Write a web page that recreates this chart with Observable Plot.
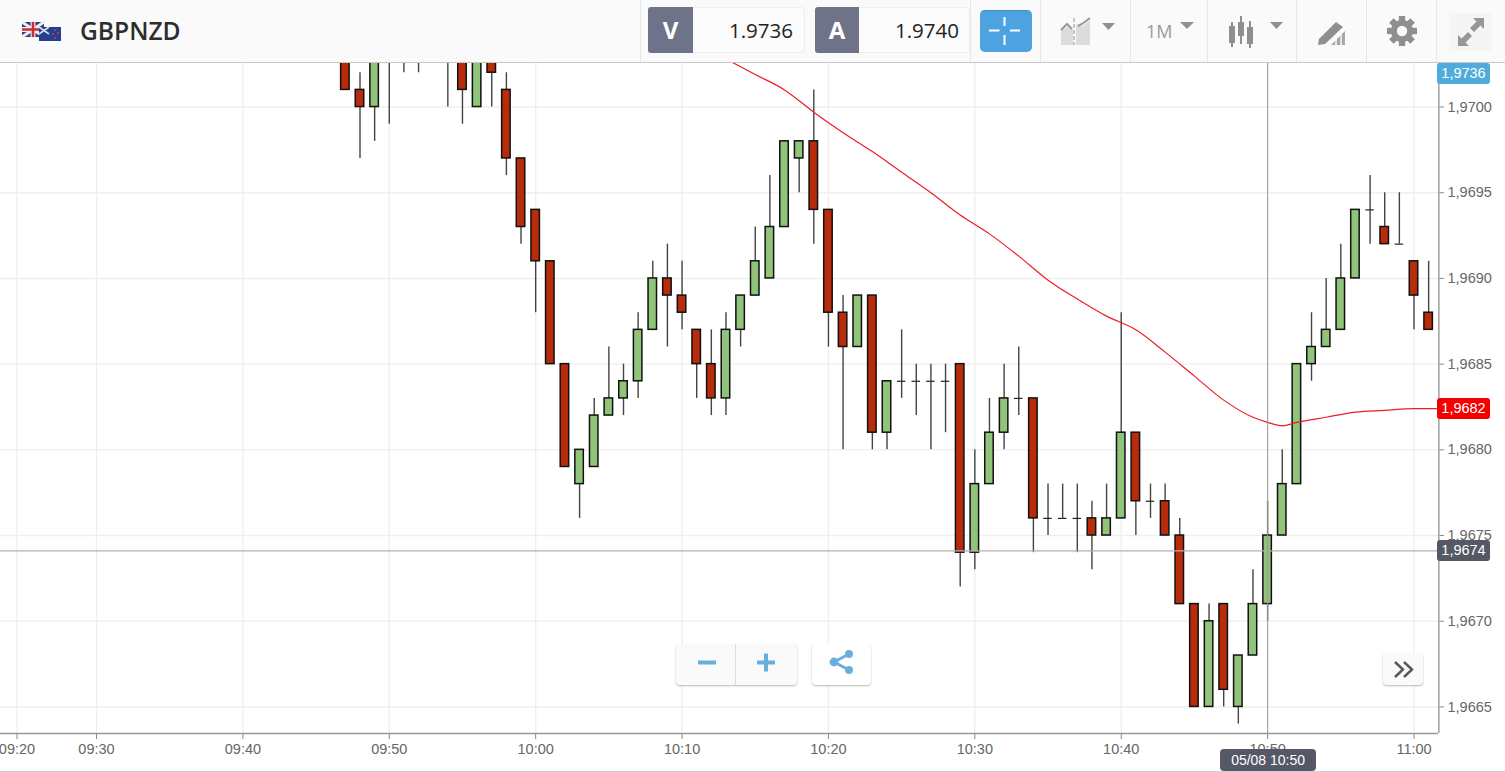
<!DOCTYPE html>
<html>
<head>
<meta charset="utf-8">
<script src="https://cdn.jsdelivr.net/npm/d3@7"></script>
<script src="https://cdn.jsdelivr.net/npm/@observablehq/plot@0.6"></script>
<style>
  html,body{margin:0;padding:0;background:#fff;overflow:hidden}
  #root{position:relative;width:1505px;height:772px;overflow:hidden;font-family:"Liberation Sans",Arial,sans-serif}
  #hdr{position:absolute;left:0;top:0;width:1505px;height:62px;background:#fafafa;border-bottom:1px solid #c8c8c8;font-family:"Open Sans",sans-serif;z-index:3}
  #hdr .a{position:absolute}
  #hdr .dv{position:absolute;top:0;width:1px;height:62px;background:#e8e8e8}
  .lbl{position:absolute;background:#6e7389;color:#fff;font-weight:700;font-size:24px;text-align:center;top:7px;height:46px;line-height:46px;width:45px;border-radius:3px 0 0 3px}
  .val{position:absolute;background:#fbfbfb;border:1px solid #efefef;border-left:0;color:#222;font-size:20.5px;text-align:right;top:7px;height:44px;line-height:44px;border-radius:0 4px 4px 0;box-sizing:content-box}
  .tag{position:absolute;left:1437px;width:53px;height:21px;line-height:21px;border-radius:3px;color:#fff;font-size:14.5px;text-align:center;z-index:2}
  #chip{position:absolute;height:22px;line-height:22px;width:96px;border-radius:4px;background:#555865;color:#fff;font-size:14px;text-align:center;z-index:2}
  .btn{position:absolute;background:#fafafa;border-radius:4px;box-shadow:0 1px 2px rgba(0,0,0,.28);z-index:2}
  #plot{position:absolute;left:0;top:63px}
  #foot{position:absolute;left:0;top:771px;width:1505px;height:1px;background:#d0d0d0;z-index:1}
</style>
</head>
<body>
<div id="root">
  <div id="hdr">
    <svg class="a" style="left:20px;top:20px" width="44" height="24" viewBox="0 0 44 24">
      <rect x="2" y="2" width="22" height="15" fill="#2b3f86"/>
      <path d="M2 2L24 17M24 2L2 17" stroke="#eee" stroke-width="3"/>
      <path d="M13 2V17M2 9.5H24" stroke="#eee" stroke-width="5"/>
      <path d="M13 2V17M2 9.5H24" stroke="#cc2b36" stroke-width="2.6"/>
      <rect x="19" y="7" width="22" height="14" fill="#24408f"/>
      <path d="M19 7L29 14M29 7L19 14" stroke="#d8d8e8" stroke-width="1.6"/>
      <circle cx="35" cy="10" r="1" fill="#e33"/><circle cx="38" cy="13" r="1" fill="#e33"/><circle cx="33" cy="14" r="1" fill="#e33"/><circle cx="35" cy="18" r="1" fill="#e33"/>
    </svg>
    <div class="a" style="left:80px;top:14px;font-size:24.6px;font-weight:600;color:#2d2d2d;line-height:34px">GBPNZD</div>
    <div class="dv" style="left:640px"></div>
    <div class="lbl" style="left:648px">V</div><div class="val" style="left:693px;width:100px;padding-right:11px">1.9736</div>
    <div class="lbl" style="left:815px;width:44px">A</div><div class="val" style="left:859px;width:100px;padding-right:10px">1.9740</div>
    <div class="dv" style="left:970px"></div>
    <div class="a" style="left:980px;top:10px;width:52px;height:41px;background:#4da3df;border-radius:5px;border-top:1px solid #3f8fc7"></div>
    <svg class="a" style="left:980px;top:10px" width="52" height="42"><path d="M24.5 7V16M24.5 25V35M9 20.5H19.5M30 20.5H40" stroke="#fff" stroke-width="2"/></svg>
    <div class="dv" style="left:1040px"></div>
    <svg class="a" style="left:1058px;top:15px" width="62" height="34" viewBox="0 0 62 34">
      <path d="M3 30V15L11 11L15 15V30Z" fill="#dcdcdc"/><path d="M3 15L9 9L14 14" fill="none" stroke="#999" stroke-width="2"/>
      <path d="M18 30V8L24 12L32 5V30Z" fill="#dcdcdc"/><path d="M20 11L24 9L32 3" fill="none" stroke="#999" stroke-width="2"/>
      <path d="M16 3V30" stroke="#aaa" stroke-width="1.3" stroke-dasharray="4 2"/>
      <path d="M44 8H57L50.5 15Z" fill="#8f8f8f"/>
    </svg>
    <div class="dv" style="left:1130px"></div>
    <div class="a" style="left:1146px;top:16px;font-size:18px;color:#9a9a9a;line-height:30px">1M</div>
    <svg class="a" style="left:1178px;top:20px" width="18" height="12"><path d="M2 2H16L9 9Z" fill="#8f8f8f"/></svg>
    <div class="dv" style="left:1207px"></div>
    <svg class="a" style="left:1226px;top:14px" width="60" height="36" viewBox="0 0 60 36" fill="#8f8f8f" stroke="#8f8f8f">
      <rect x="3" y="12" width="6" height="17" stroke="none"/><path d="M6 8V33" stroke-width="2"/>
      <rect x="12" y="8" width="6" height="14" stroke="none"/><path d="M15 2V30" stroke-width="2"/>
      <rect x="21" y="13" width="6" height="17" stroke="none"/><path d="M24 7V34" stroke-width="2"/>
      <path d="M44 8H57L50.5 15Z" stroke="none"/>
    </svg>
    <div class="dv" style="left:1296px"></div>
    <svg class="a" style="left:1316px;top:18px" width="32" height="30" viewBox="0 0 32 30">
      <path d="M3 21L20 4L27 9L9 26L2 27Z" fill="#8f8f8f"/>
      <path d="M15 27L29 13V27Z" fill="#a8a8a8"/>
      <path d="M20 27V19M25 27V15" stroke="#fafafa" stroke-width="1.5"/>
    </svg>
    <div class="dv" style="left:1366px"></div>
    <svg class="a" style="left:1385px;top:14px" width="34" height="34" viewBox="-17 -17 34 34">
      <g fill="#8f8f8f"><circle r="11"/>
      <rect x="-3.2" y="-15" width="6.4" height="30"/><rect x="-3.2" y="-15" width="6.4" height="30" transform="rotate(45)"/><rect x="-3.2" y="-15" width="6.4" height="30" transform="rotate(90)"/><rect x="-3.2" y="-15" width="6.4" height="30" transform="rotate(135)"/></g>
      <circle r="5.2" fill="#fafafa"/>
    </svg>
    <div class="dv" style="left:1436px"></div>
    <div class="a" style="left:1450px;top:13px;width:42px;height:38px;background:#f5f5f5"></div>
    <svg class="a" style="left:1450px;top:13px" width="42" height="38">
      <path d="M34 5H23L26.5 8.5L20 15L24 19L30.5 12.5L34 16Z" fill="#979797"/>
      <path d="M8 33H19L15.5 29.5L22 23L18 19L11.5 25.5L8 22Z" fill="#979797"/>
    </svg>
  </div>
  <div id="plot"></div>
  <div id="foot"></div>
  <div class="btn" style="left:676px;top:644px;width:121px;height:41px"></div>
  <div style="position:absolute;left:735px;top:644px;width:1px;height:41px;background:#ddd;z-index:2"></div>
  <svg style="position:absolute;left:676px;top:644px;z-index:2" width="121" height="41"><path d="M22 18.5H40M81 18.5H99M90 9.5V27.5" stroke="#6aaedb" stroke-width="4"/></svg>
  <div class="btn" style="left:812px;top:644px;width:59px;height:41px;background:#fff"></div>
  <svg style="position:absolute;left:812px;top:644px;z-index:2" width="59" height="41"><path d="M22 18L37 10M22 18L37 26" stroke="#6aaedb" stroke-width="3"/><circle cx="22" cy="18" r="4.4" fill="#6aaedb"/><circle cx="37" cy="10" r="4" fill="#6aaedb"/><circle cx="37" cy="26" r="4" fill="#6aaedb"/></svg>
  <div class="btn" style="left:1383px;top:653px;width:40px;height:32px"></div>
  <svg style="position:absolute;left:1383px;top:653px;z-index:2" width="40" height="32"><path d="M12 9L20 16.5L12 24M21 9L29 16.5L21 24" fill="none" stroke="#555" stroke-width="2.4"/></svg>
</div>
<script>
// minutes since midnight for each one-minute candle, 09:47 ... 11:01
const minutes = d3.range(587, 662);
const opens = [
1.9704,1.9701,1.9700,1.9704,1.9704,1.9704,1.9704,1.9704,1.9704,1.9700,1.9704,1.9701,1.9697,
1.9694,1.9691,1.9685,1.9678,1.9679,1.9682,1.9683,1.9684,1.9687,1.9690,1.9689,1.9687,1.9685,1.9683,1.9687,1.9689,1.9690,1.9693,1.9697,1.9698,
1.9694,1.9688,1.9686,1.9689,1.9681,1.9684,1.9684,1.9684,1.9684,1.9685,1.9674,1.9678,1.9681,1.9683,1.9683,1.9676,1.9676,1.9676,1.9676,1.9675,1.9676,
1.9681,1.9677,1.9677,1.9675,1.9671,1.9665,1.9671,1.9665,1.9668,1.9671,1.9675,1.9678,1.9685,1.9686,1.9687,1.9690,1.9694,1.9693,1.9692,1.9691,1.9688];
const closes = [
1.9701,1.9700,1.9704,1.9704,1.9704,1.9704,1.9704,1.9704,1.9701,1.9704,1.9702,1.9697,1.9693,
1.9691,1.9685,1.9679,1.9680,1.9682,1.9683,1.9684,1.9687,1.9690,1.9689,1.9688,1.9685,1.9683,1.9687,1.9689,1.9691,1.9693,1.9698,1.9698,1.9694,
1.9688,1.9686,1.9689,1.9681,1.9684,1.9684,1.9684,1.9684,1.9684,1.9674,1.9678,1.9681,1.9683,1.9683,1.9676,1.9676,1.9676,1.9676,1.9675,1.9676,1.9681,
1.9677,1.9677,1.9675,1.9671,1.9665,1.9670,1.9666,1.9668,1.9671,1.9675,1.9678,1.9685,1.9686,1.9687,1.9690,1.9694,1.9694,1.9692,1.9692,1.9689,1.9687];
const highs = [
1.9706,1.9702,1.9705,1.9705,1.9705,1.9705,1.9705,1.9705,1.9705,1.9705,1.9705,1.9702,1.9697,
1.9694,1.9691,1.9685,1.9680,1.9683,1.9686,1.9685,1.9688,1.9691,1.9692,1.9691,1.9687,1.9687,1.9688,1.9689,1.9693,1.9696,1.9698,1.9698,1.9701,
1.9694,1.9689,1.9689,1.9689,1.9684,1.9687,1.9685,1.9685,1.9685,1.9685,1.9680,1.9683,1.9685,1.9686,1.9683,1.9678,1.9678,1.9678,1.9677,1.9678,1.9688,
1.9681,1.9678,1.9678,1.9676,1.9671,1.9671,1.9671,1.9668,1.9673,1.9677,1.9680,1.9685,1.9688,1.9690,1.9692,1.9694,1.9696,1.9695,1.9695,1.9691,1.9691];
const lows = [
1.9701,1.9697,1.9698,1.9699,1.9702,1.9702,1.9703,1.9700,1.9699,1.9700,1.9700,1.9696,1.9692,
1.9688,1.9685,1.9679,1.9676,1.9679,1.9682,1.9682,1.9683,1.9687,1.9686,1.9687,1.9683,1.9682,1.9682,1.9686,1.9689,1.9690,1.9693,1.9695,1.9692,
1.9686,1.9680,1.9686,1.9680,1.9680,1.9683,1.9682,1.9680,1.9681,1.9672,1.9673,1.9678,1.9680,1.9682,1.9674,1.9675,1.9676,1.9674,1.9673,1.9675,1.9676,
1.9675,1.9676,1.9675,1.9671,1.9665,1.9665,1.9665,1.9664,1.9668,1.9670,1.9675,1.9678,1.9684,1.9686,1.9687,1.9690,1.9692,1.9692,1.9692,1.9687,1.9687];

// moving average
const maMinutes = [613,615,617,619,621,623,625,627,629,631,633,635,637,639,641,643,645,647,649,650,651,652,654,656,658,660,662];
const maValues = [1.97028,1.97019,1.97010,1.96997,1.96985,1.96974,1.96962,1.96950,1.96937,1.96926,1.96913,1.96899,1.96888,1.96878,1.96870,1.96857,1.96843,1.96829,1.96819,1.96816,1.96814,1.96816,1.96819,1.96822,1.96823,1.96824,1.96824];

// axes
const xTicks = [560,570,580,590,600,610,620,630,640,650,660];
const xLabels = ["09:20","09:30","09:40","09:50","10:00","10:10","10:20","10:30","10:40","10:50","11:00"];
const yTicks = [1.9665,1.9670,1.9675,1.9680,1.9685,1.9690,1.9695,1.9700];
const crossMinute = 650, crossPrice = 1.96741, crossLabel = "05/08 10:50";
const priceTags = [
  {label:"1,9736", value:1.9736,  color:"#4fabdc"},
  {label:"1,9682", value:1.96824, color:"#f40000"},
  {label:"1,9674", value:crossPrice, color:"#555865"}
];

const candles = minutes.map((m,i)=>({m,o:opens[i],c:closes[i],h:highs[i],l:lows[i]}));
const bodies = candles.filter(d=>d.o!==d.c);
const dojis = candles.filter(d=>d.o===d.c);
const ma = maMinutes.map((m,i)=>({m,v:maValues[i]}));
const UP="#8fc47a", DOWN="#b82c0b", INK="#111";
const hw = 0.29;

const chart = Plot.plot({
  width:1505, height:709,
  marginTop:0, marginLeft:0, marginRight:67, marginBottom:39,
  style:{fontFamily:"'Liberation Sans',Arial,sans-serif",fontSize:"14.5px",color:"#666",background:"transparent",overflow:"visible"},
  x:{type:"linear",domain:[560,570,660],range:[16.5,96,1413.5]},
  y:{type:"linear",domain:[1.966345,1.970254]},
  marks:[
    Plot.ruleX(xTicks,{stroke:"#efefef",strokeWidth:1.4}),
    Plot.ruleY(yTicks,{stroke:"#efefef",strokeWidth:1.4}),
    Plot.ruleX(candles,{x:"m",y1:"l",y2:"h",stroke:"#444",strokeWidth:1.4,clip:true}),
    Plot.rect(bodies,{x1:d=>d.m-hw,x2:d=>d.m+hw,y1:"o",y2:"c",fill:d=>d.c>d.o?UP:DOWN,stroke:INK,strokeWidth:1.5,clip:true}),
    Plot.ruleY(dojis,{y:"o",x1:d=>d.m-hw,x2:d=>d.m+hw,stroke:"#222",strokeWidth:1.2,clip:true}),
    Plot.line(ma,{x:"m",y:"v",stroke:"#ee1c25",strokeWidth:1.2,curve:"monotone-x",clip:true}),
    Plot.ruleY([crossPrice],{stroke:"#b0b0b0",strokeWidth:1.2}),
    Plot.ruleX([crossMinute],{stroke:"#999",strokeWidth:1}),
    Plot.axisX({ticks:xTicks,tickFormat:d=>xLabels[xTicks.indexOf(d)],tickSize:6,tickPadding:4,anchor:"bottom",stroke:"#888",fill:"#666",label:null}),
    Plot.axisY({ticks:yTicks,tickFormat:d=>d.toFixed(4).replace(".",","),tickSize:5,tickPadding:4,anchor:"right",stroke:"#888",fill:"#666",label:null}),
    Plot.ruleY([1.966345],{stroke:"#999",strokeWidth:1.4}),
    Plot.ruleX([661.7],{stroke:"#999",strokeWidth:1.4})
  ]
});
document.getElementById("plot").appendChild(chart);

// price tags and crosshair chip are pinned with the chart's own scales
const root = document.getElementById("root");
const top0 = 63, halfTag = 10.5;
for (const t of priceTags){
  const el = document.createElement("div");
  el.className="tag"; el.textContent=t.label; el.style.background=t.color;
  const yy = Math.max(top0+halfTag-0.5, top0 + chart.scale("y").apply(t.value));
  el.style.top=(yy-halfTag)+"px";
  root.appendChild(el);
}
const chip=document.createElement("div");
chip.id="chip"; chip.textContent=crossLabel;
chip.style.left=(chart.scale("x").apply(crossMinute)-47)+"px";
chip.style.top="749px";
root.appendChild(chip);
</script>
</body>
</html>
